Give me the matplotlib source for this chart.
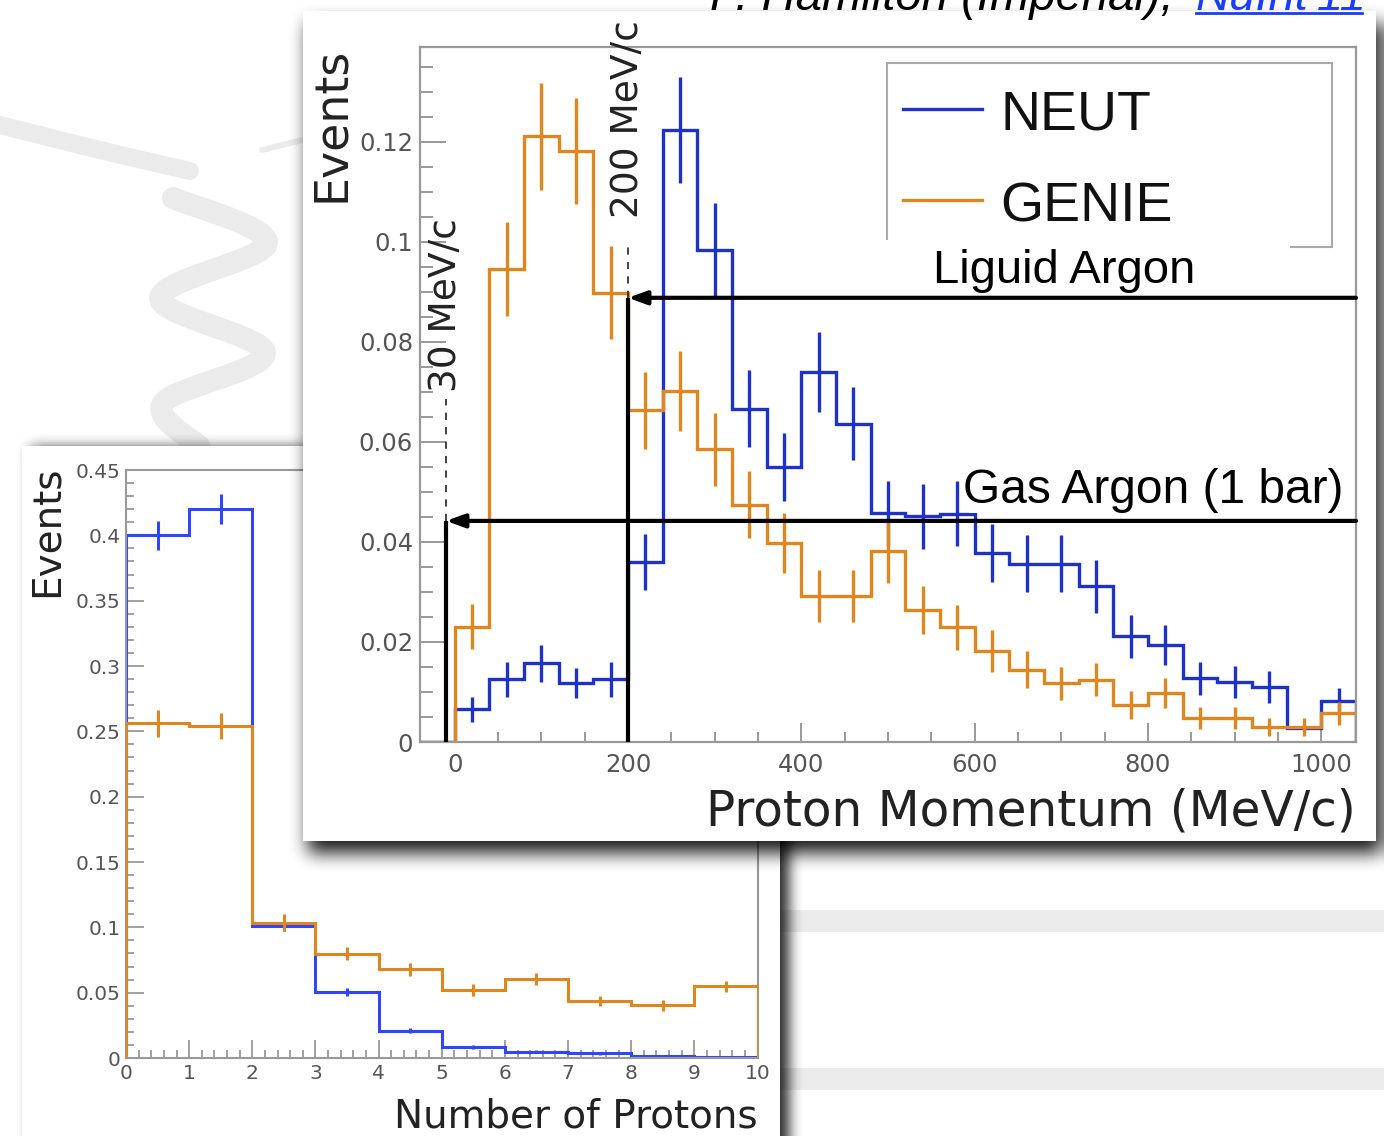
import numpy as np
import matplotlib
matplotlib.use('Agg')
import matplotlib.pyplot as plt
from matplotlib.patches import Rectangle
from matplotlib.lines import Line2D
from matplotlib.ticker import FuncFormatter, MultipleLocator

# ---- data: proton momentum (MeV/c), 40 MeV/c bins from -40 to 1040 ----
mom_edges = np.arange(-40, 1041, 40)
neut_mom = [0.0, 0.0065, 0.0125, 0.0157, 0.0117, 0.0125, 0.0359, 0.1223, 0.0984,
            0.0666, 0.0549, 0.0739, 0.0636, 0.0457, 0.0451, 0.0456, 0.0377, 0.0356,
            0.0356, 0.0311, 0.0211, 0.0194, 0.0127, 0.0120, 0.0109, 0.0028, 0.0082]
neut_mom_err = [0.0, 0.0025, 0.0035, 0.0037, 0.0030, 0.0035, 0.0056, 0.0106, 0.0094,
                0.0077, 0.0068, 0.0080, 0.0073, 0.0065, 0.0065, 0.0065, 0.0058, 0.0057,
                0.0057, 0.0053, 0.0043, 0.0040, 0.0033, 0.0032, 0.0032, 0.0, 0.0025]
genie_mom = [0.0, 0.0230, 0.0946, 0.1211, 0.1182, 0.0898, 0.0663, 0.0701, 0.0585,
             0.0474, 0.0397, 0.0292, 0.0292, 0.0381, 0.0264, 0.0229, 0.0181, 0.0144,
             0.0117, 0.0124, 0.0074, 0.0097, 0.0047, 0.0047, 0.0029, 0.0029, 0.0057]
genie_mom_err = [0.0, 0.0045, 0.0094, 0.0107, 0.0106, 0.0093, 0.0077, 0.0080, 0.0073,
                 0.0067, 0.0060, 0.0052, 0.0052, 0.0063, 0.0048, 0.0045, 0.0042, 0.0037,
                 0.0033, 0.0033, 0.0028, 0.0030, 0.0022, 0.0022, 0.0018, 0.0018, 0.0023]

# thresholds (MeV/c position of the drawn marker lines, event level of arrows)
liquid_thr = 200
liquid_level = 0.0888
gas_thr = -10
gas_level = 0.0442

# ---- data: number of protons ----
nprot_edges = np.arange(0, 11)
neut_np = [0.400, 0.420, 0.101, 0.0505, 0.021, 0.0087, 0.0048, 0.0036, 0.0012, 0.0010]
neut_np_err = [0.011, 0.0115, 0.004, 0.003, 0.002, 0.0015, 0.001, 0.001, 0.0005, 0.0005]
genie_np = [0.2563, 0.2540, 0.1035, 0.0797, 0.0678, 0.0522, 0.0604, 0.0438, 0.0402, 0.0548]
genie_np_err = [0.0103, 0.010, 0.0064, 0.005, 0.005, 0.0045, 0.0045, 0.004, 0.004, 0.0045]

BLUE = '#1f32c8'
BLUE2 = '#2f45ff'
ORANGE = '#e0861e'
GRAY = '#999999'
TXT = '#555555'

W, H = 1384, 1136
fig = plt.figure(figsize=(W / 100, H / 100), dpi=100)
fig.patch.set_facecolor('white')


def fx(x):
    return x / W


def fy(y):
    return 1 - y / H


def smooth(pts, n=24):
    '''Catmull-Rom curve through pixel points.'''
    pts = np.asarray(pts, float)
    p = np.vstack([pts[0], pts, pts[-1]])
    out = []
    t = np.linspace(0, 1, n)[:, None]
    for i in range(1, len(p) - 2):
        p0, p1, p2, p3 = p[i - 1], p[i], p[i + 1], p[i + 2]
        out.append(0.5 * (2 * p1 + (-p0 + p2) * t + (2 * p0 - 5 * p1 + 4 * p2 - p3) * t ** 2
                          + (-p0 + 3 * p1 - 3 * p2 + p3) * t ** 3))
    return np.vstack(out)


def brush(pts, width_px, z=0.1):
    c = smooth(pts) if len(pts) > 2 else np.asarray(pts, float)
    fig.add_artist(Line2D(fx(c[:, 0]), fy(c[:, 1]), transform=fig.transFigure,
                          color='#ebebeb', lw=width_px * 0.72, solid_capstyle='round',
                          solid_joinstyle='round', zorder=z))


def box_blur(a, r, axis):
    a = np.moveaxis(a, axis, -1)
    pad = np.pad(a, [(0, 0), (r + 1, r)], mode='edge')
    c = np.cumsum(pad, axis=-1)
    out = (c[:, 2 * r + 1:] - c[:, :-2 * r - 1]) / (2 * r + 1)
    return np.moveaxis(out, -1, axis)


def panel(x0, y0, x1, y1, dx, dy, r, alpha, z):
    '''White card with a soft drop shadow, all in pixel coordinates.'''
    m = np.zeros((H, W))
    m[max(y0 + dy, 0):min(y1 + dy, H), max(x0 + dx, 0):min(x1 + dx, W)] = 1.0
    for _ in range(3):
        m = box_blur(m, r, 0)
        m = box_blur(m, r, 1)
    rgba = np.zeros((H, W, 4))
    rgba[..., 3] = m * alpha
    fig.figimage(rgba, 0, 0, origin='upper', zorder=z)
    fig.add_artist(Rectangle((fx(x0), fy(y1)), (x1 - x0) / W, (y1 - y0) / H,
                             transform=fig.transFigure, facecolor='white', lw=0,
                             zorder=z + 0.01))


# background brush strokes
brush([(0, 125), (100, 150), (190, 171)], 18)
brush([(262, 150), (302, 140)], 6)
brush([(173, 198), (267, 243), (160, 298), (265, 353), (163, 403), (200, 447)], 22)
brush([(780, 921), (1384, 921)], 22)
brush([(780, 1079), (1384, 1079)], 22)

# back panel (number of protons)
panel(22, 446, 780, 1180, 9, 2, 6, 0.85, 0.2)
ax2 = fig.add_axes([fx(126), fy(1058), (757.5 - 126) / W, (1058 - 470) / H])
ax2.set_zorder(0.3)

ax2.stairs(neut_np, nprot_edges, color=BLUE2, lw=2.2, zorder=2)
ax2.stairs(genie_np, nprot_edges, color=ORANGE, lw=2.2, zorder=3)
np_centers = 0.5 * (nprot_edges[1:] + nprot_edges[:-1])
ax2.errorbar(np_centers, neut_np, yerr=neut_np_err, fmt='none', ecolor=BLUE2, elinewidth=2.2, zorder=2)
ax2.errorbar(np_centers, genie_np, yerr=genie_np_err, fmt='none', ecolor=ORANGE, elinewidth=2.2, zorder=3)
ax2.set_xlim(0, 10)
ax2.set_ylim(0, 0.45)
ax2.xaxis.set_major_locator(MultipleLocator(1))
ax2.xaxis.set_minor_locator(MultipleLocator(0.2))
ax2.yaxis.set_major_locator(MultipleLocator(0.05))
ax2.yaxis.set_minor_locator(MultipleLocator(0.01))
ax2.yaxis.set_major_formatter(FuncFormatter(lambda v, p: '%g' % round(v, 3)))
ax2.tick_params(which='both', direction='in', color='#888888', labelcolor=TXT,
                labelsize=14.5, width=1.1, pad=4)
ax2.tick_params(which='major', length=13)
ax2.tick_params(which='minor', length=6)
for s in ax2.spines.values():
    s.set_color(GRAY)
    s.set_linewidth(1.5)
ax2.text(-0.125, 1.008, 'Events', rotation=90, ha='center', va='top',
         transform=ax2.transAxes, fontsize=28, color='#222222')
ax2.text(1.0, -0.119, 'Number of Protons', ha='right', va='baseline',
         transform=ax2.transAxes, fontsize=28, color='#222222')

# front panel (proton momentum)
panel(303, 11, 1376, 841, 5, 12, 8, 0.9, 0.5)
ax = fig.add_axes([fx(420), fy(742), (1356 - 420) / W, (742 - 46.7) / H])
ax.set_zorder(0.6)

mom_centers = 0.5 * (mom_edges[1:] + mom_edges[:-1])
ax.stairs(neut_mom, mom_edges, color=BLUE, lw=2.4, zorder=2)
ax.errorbar(mom_centers, neut_mom, yerr=neut_mom_err, fmt='none', ecolor=BLUE, elinewidth=2.4, zorder=2)
ax.stairs(genie_mom, mom_edges, color=ORANGE, lw=2.4, zorder=2.5)
ax.errorbar(mom_centers, genie_mom, yerr=genie_mom_err, fmt='none', ecolor=ORANGE, elinewidth=2.4, zorder=2.5)

ax.set_xlim(mom_edges[0], mom_edges[-1])
ax.set_ylim(0, 0.139)
ax.xaxis.set_major_locator(MultipleLocator(200))
ax.xaxis.set_minor_locator(MultipleLocator(50))
ax.yaxis.set_major_locator(MultipleLocator(0.02))
ax.yaxis.set_minor_locator(MultipleLocator(0.005))
ax.yaxis.set_major_formatter(FuncFormatter(lambda v, p: '%g' % round(v, 3)))
ax.tick_params(which='both', direction='in', color='#888888', labelcolor=TXT,
               labelsize=17.5, width=1.2)
ax.tick_params(axis='y', which='major', length=19, pad=5)
ax.tick_params(axis='y', which='minor', length=9.5)
ax.tick_params(axis='x', which='major', length=14, pad=8)
ax.tick_params(axis='x', which='minor', length=7)
for s in ax.spines.values():
    s.set_color(GRAY)
    s.set_linewidth(1.6)

# threshold markers: solid line + arrow, dashed continuation and rotated label
arrow = dict(arrowstyle='-|>,head_length=0.55,head_width=0.2', color='black', lw=3,
             mutation_scale=20, shrinkA=0, shrinkB=0)
for thr, lev, top, label, lab_y in [(liquid_thr, liquid_level, 0.0995, '200 MeV/c', 0.1048),
                                    (gas_thr, gas_level, 0.0685, '30 MeV/c', 0.0700)]:
    ax.plot([thr, thr], [0, lev], color='black', lw=3, zorder=4, solid_capstyle='butt')
    ax.annotate('', xy=(thr, lev), xytext=(mom_edges[-1], lev), arrowprops=arrow, zorder=4)
    ax.plot([thr, thr], [lev, top], color='#333333', lw=1.3, ls=(0, (4, 4)), zorder=4)
    ax.text(thr, lab_y, label, rotation=90, ha='center', va='bottom', fontsize=27,
            color='#222222', zorder=6)

# legend drawn by hand in ROOT style
ax.add_patch(Rectangle((0.499, 0.712), 0.475, 0.2646, transform=ax.transAxes,
                       facecolor='white', edgecolor='#aaaaaa', lw=1.5, zorder=5))
for y_line, y_txt, col, name in [(0.9104, 0.8802, BLUE, 'NEUT'), (0.7795, 0.7479, ORANGE, 'GENIE')]:
    ax.plot([0.516, 0.6004], [y_line, y_line], color=col, lw=2.4, transform=ax.transAxes, zorder=6)
    ax.text(0.6197, y_txt, name, transform=ax.transAxes, fontsize=40, family='Liberation Sans',
            va='baseline', color='#111111', zorder=6)

# medium labels on white boxes
ax.add_patch(Rectangle((0.4915, 0.643), 0.438, 0.079, transform=ax.transAxes,
                       facecolor='white', lw=0, zorder=7))
ax.text(0.548, 0.660, 'Liguid Argon', transform=ax.transAxes, fontsize=34,
        family='Liberation Sans', va='baseline', color='black', zorder=8)
ax.add_patch(Rectangle((0.5865, 0.3294), 0.3996, 0.0762, transform=ax.transAxes,
                       facecolor='white', lw=0, zorder=7))
ax.text(0.580, 0.3437, 'Gas Argon (1 bar)', transform=ax.transAxes, fontsize=34.5,
        family='Liberation Sans', va='baseline', color='black', zorder=8)

ax.text(-0.0943, 1.0, 'Events', rotation=90, ha='center', va='top',
        transform=ax.transAxes, fontsize=33, color='#222222')
ax.text(1.0, -0.1208, 'Proton Momentum (MeV/c)', ha='right', va='baseline',
        transform=ax.transAxes, fontsize=35, color='#222222')

# credit line, mostly cut off by the top edge as in the slide
fig.text(fx(710), fy(10), 'P. Hamilton (Imperial), ', fontsize=34, style='italic',
         family='Liberation Sans', va='baseline', color='black', zorder=10)
fig.text(fx(1196), fy(10), "NuInt'11", fontsize=34, style='italic',
         family='Liberation Sans', va='baseline', color='#1a3cff', zorder=10)
fig.add_artist(Line2D([fx(1196), fx(1362)], [fy(13), fy(13)], transform=fig.transFigure,
                      color='#1a3cff', lw=2, zorder=10))

fig.savefig('out.png', dpi=100)
